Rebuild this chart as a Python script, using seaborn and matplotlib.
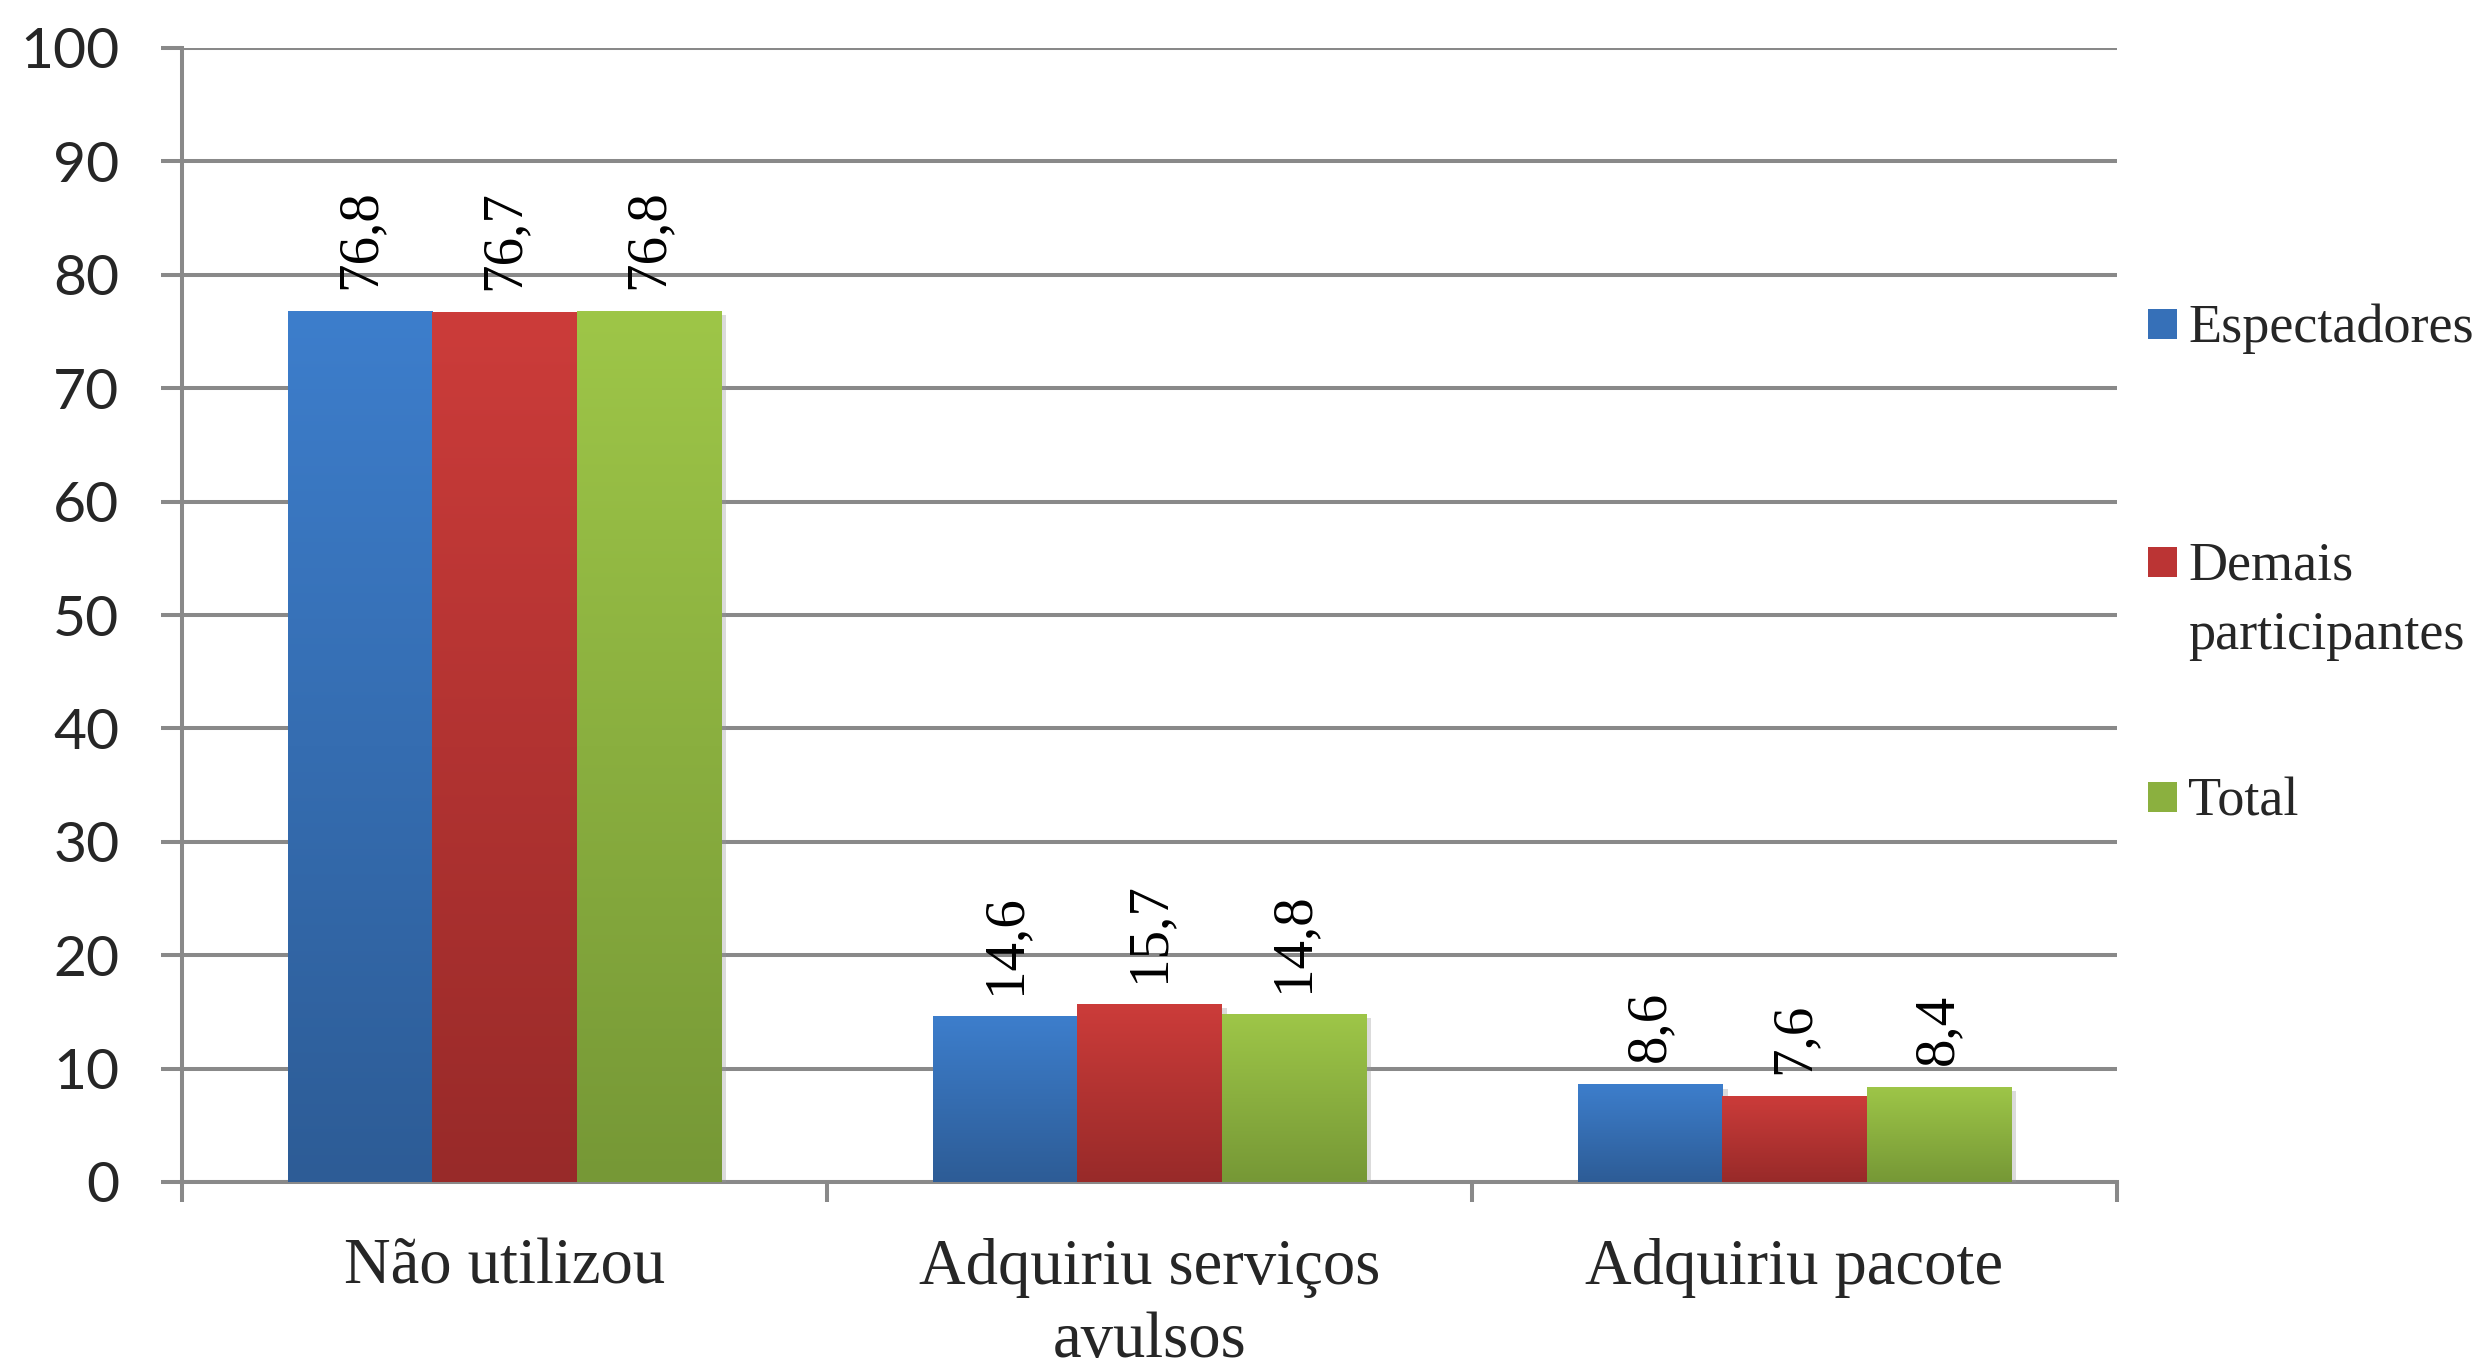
import numpy as np
import pandas as pd
import matplotlib
matplotlib.use('Agg')
import matplotlib.pyplot as plt
import matplotlib.patheffects as pe
from matplotlib.colors import to_rgb
from matplotlib.patches import Rectangle
import seaborn as sns

categories = ['Não utilizou', 'Adquiriu serviços\navulsos', 'Adquiriu pacote']
groups = ['Espectadores', 'Demais participantes', 'Total']
espectadores = [76.8, 14.6, 8.6]
demais = [76.7, 15.7, 7.6]
total = [76.8, 14.8, 8.4]
y_ticks = list(range(0, 101, 10))

top_colors = ['#3D7ECC', '#CC3C3A', '#9EC648']
bottom_colors = ['#2D5C96', '#982A29', '#769836']
base_colors = ['#3670B8', '#BB3434', '#8BB03F']
grid_color = '#898989'

FIG_W, FIG_H = 2481, 1367

df = pd.DataFrame({
    'category': categories * 3,
    'group': [g for g in groups for _ in categories],
    'value': espectadores + demais + total,
})

sns.set_style('white')
plt.rcParams['font.family'] = ['Liberation Serif', 'DejaVu Serif']

fig = plt.figure(figsize=(FIG_W / 100, FIG_H / 100), dpi=100)
ax = fig.add_axes([182 / FIG_W, 1 - 1182 / FIG_H, (2117 - 182) / FIG_W, (1182 - 48) / FIG_H])

sns.barplot(data=df, x='category', y='value', hue='group', hue_order=groups,
            order=categories, palette=base_colors, width=0.67, saturation=1,
            edgecolor='none', linewidth=0, legend=False, ax=ax, zorder=3)

# vertical gradient + soft shadow on every bar
grad = np.linspace(0, 1, 256)[:, None, None]
for i, container in enumerate(ax.containers):
    c_top = np.array(to_rgb(top_colors[i]))
    c_bot = np.array(to_rgb(bottom_colors[i]))
    img = c_top * (1 - grad) + c_bot * grad
    for patch in container:
        patch.set_path_effects([pe.SimplePatchShadow(offset=(4, -3), shadow_rgbFace='#999999', alpha=0.35), pe.Normal()])
        x0, y0 = patch.get_x(), patch.get_y()
        w, h = patch.get_width(), patch.get_height()
        im = ax.imshow(img, extent=[x0, x0 + w, y0, y0 + h], aspect='auto',
                       origin='upper', zorder=3.5, interpolation='bilinear')
        im.set_clip_path(patch)
    labels = [f'{v:.1f}'.replace('.', ',') for v in container.datavalues]
    texts = ax.bar_label(container, labels=labels, padding=16, rotation=90, color='black')
    for t in texts:
        t.set_fontfamily('Liberation Serif')
        t.set_fontsize(41)

ax.set_xlim(-0.5, 2.5)
ax.set_ylim(0, 100)
ax.set_yticks(y_ticks)
ax.set_xticks(range(len(categories)))
ax.set_xticklabels(categories, fontsize=46.5, family='Liberation Serif', linespacing=1.3)
ax.set_xticks([-0.5, 0.5, 1.5, 2.5], minor=True)
for lbl in ax.get_yticklabels():
    lbl.set_fontfamily('Lato')
    lbl.set_fontsize(41)

ax.tick_params(axis='y', length=15, width=2.9, color=grid_color, pad=30, left=True)
ax.tick_params(axis='x', which='major', length=0, pad=40)
ax.tick_params(axis='x', which='minor', length=14.5, width=2.9, color=grid_color, bottom=True)
ax.set_xlabel('')
ax.set_ylabel('')

ax.grid(axis='y', color=grid_color, linewidth=2.9)
ax.set_axisbelow(True)
for side in ['top', 'right']:
    ax.spines[side].set_visible(False)
for side in ['left', 'bottom']:
    ax.spines[side].set_color(grid_color)
    ax.spines[side].set_linewidth(2.9)
    ax.spines[side].set_zorder(2.5)

# legend, drawn by hand so the two-line entry keeps its marker on the first line
legend_lines = [['Espectadores'], ['Demais', 'participantes'], ['Total']]
legend_marker_y = [324, 562, 797]
line_pitch = 69
for i, lines in enumerate(legend_lines):
    yc = legend_marker_y[i]
    fig.patches.append(Rectangle((2148 / FIG_W, 1 - (yc + 15) / FIG_H), 29 / FIG_W, 30 / FIG_H,
                                 transform=fig.transFigure, facecolor=base_colors[i],
                                 edgecolor='none', figure=fig))
    for j, line in enumerate(lines):
        fig.text(2188 / FIG_W, 1 - (yc + 18 + j * line_pitch) / FIG_H, line,
                 fontsize=39, family='Liberation Serif', va='baseline', ha='left')

fig.savefig('out.png', dpi=100)
